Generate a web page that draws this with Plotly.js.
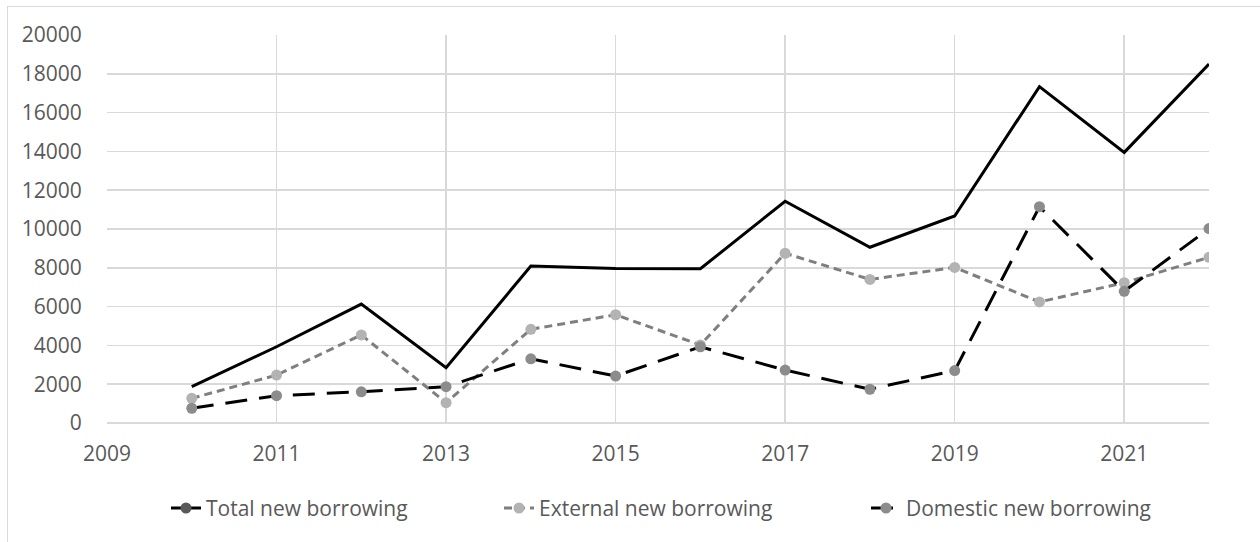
<!DOCTYPE html>
<html>
<head>
<meta charset="utf-8">
<script src="https://cdn.plot.ly/plotly-3.0.1.min.js"></script>
<style>
html,body{margin:0;padding:0;background:#fff;}
#frame{position:absolute;left:7px;top:6px;width:1260px;height:600px;border-left:1px solid #d9d9d9;border-top:1px solid #d9d9d9;}
#chart{position:absolute;left:0;top:0;width:1260px;height:542px;}
</style>
</head>
<body>
<div id="frame"></div>
<div id="chart"></div>
<script>
const years = [2010,2011,2012,2013,2014,2015,2016,2017,2018,2019,2020,2021,2022];
const totalNew = [1870,3930,6130,2850,8090,7970,7950,11430,9060,10670,17340,13950,18500];
const externalNew = [1270,2470,4540,1050,4830,5580,4020,8750,7400,8020,6240,7230,8540];
const domesticNew = [760,1410,1610,1870,3310,2420,3930,2730,1740,2700,11150,6790,10020];
const seriesNames = ['Total new borrowing','External new borrowing','Domestic new borrowing'];

const font = "'Open Sans', 'Liberation Sans', Arial, sans-serif";
const fsize = 21;

const traces = [
  {x: years, y: totalNew, name: seriesNames[0], mode: 'lines', showlegend: false,
   line: {color: '#000000', width: 3}},
  {x: [null], y: [null], name: seriesNames[0], mode: 'lines+markers', legend: 'legend',
   line: {color: '#000000', width: 3}, marker: {color: '#595959', size: 11}},
  {x: years, y: externalNew, name: seriesNames[1], mode: 'lines+markers', legend: 'legend2',
   line: {color: '#7f7f7f', width: 3, dash: '8px,5px'}, marker: {color: '#b3b3b3', size: 11}},
  {x: years, y: domesticNew, name: seriesNames[2], mode: 'lines+markers', legend: 'legend3',
   line: {color: '#000000', width: 3, dash: '22px,12px'}, marker: {color: '#8c8c8c', size: 11}}
];

function px2paper(p) { return (p - 107) / 1102; }
function leg(p) {
  return {orientation: 'h', x: px2paper(p), xanchor: 'left', y: -0.22, yanchor: 'middle',
          bgcolor: 'rgba(0,0,0,0)', font: {family: font, size: fsize, color: '#595959'}};
}

const layout = {
  width: 1260, height: 542,
  margin: {l: 107, r: 51, t: 35, b: 119},
  paper_bgcolor: 'rgba(0,0,0,0)', plot_bgcolor: 'rgba(0,0,0,0)',
  font: {family: font, size: fsize, color: '#595959'},
  xaxis: {range: [2009, 2022], tick0: 2009, dtick: 2, tickformat: 'd', showgrid: true, gridcolor: '#d9d9d9', gridwidth: 1.5,
          zeroline: false, showline: false, ticks: 'outside', ticklen: 12, tickcolor: 'rgba(0,0,0,0)',
          tickfont: {family: font, size: fsize, color: '#595959'}},
  yaxis: {range: [0, 20000], dtick: 2000, tickformat: 'd', showgrid: true, gridcolor: '#d9d9d9', gridwidth: 1.5,
          zeroline: true, zerolinecolor: '#d9d9d9', zerolinewidth: 1.5, showline: false,
          ticks: 'outside', ticklen: 20, tickcolor: 'rgba(0,0,0,0)',
          tickfont: {family: font, size: fsize, color: '#595959'}},
  legend: leg(207 - 41),
  legend2: leg(540 - 41),
  legend3: leg(907 - 41),
  showlegend: true
};

Plotly.newPlot('chart', traces, layout, {displayModeBar: false, staticPlot: true});
</script>
</body>
</html>
